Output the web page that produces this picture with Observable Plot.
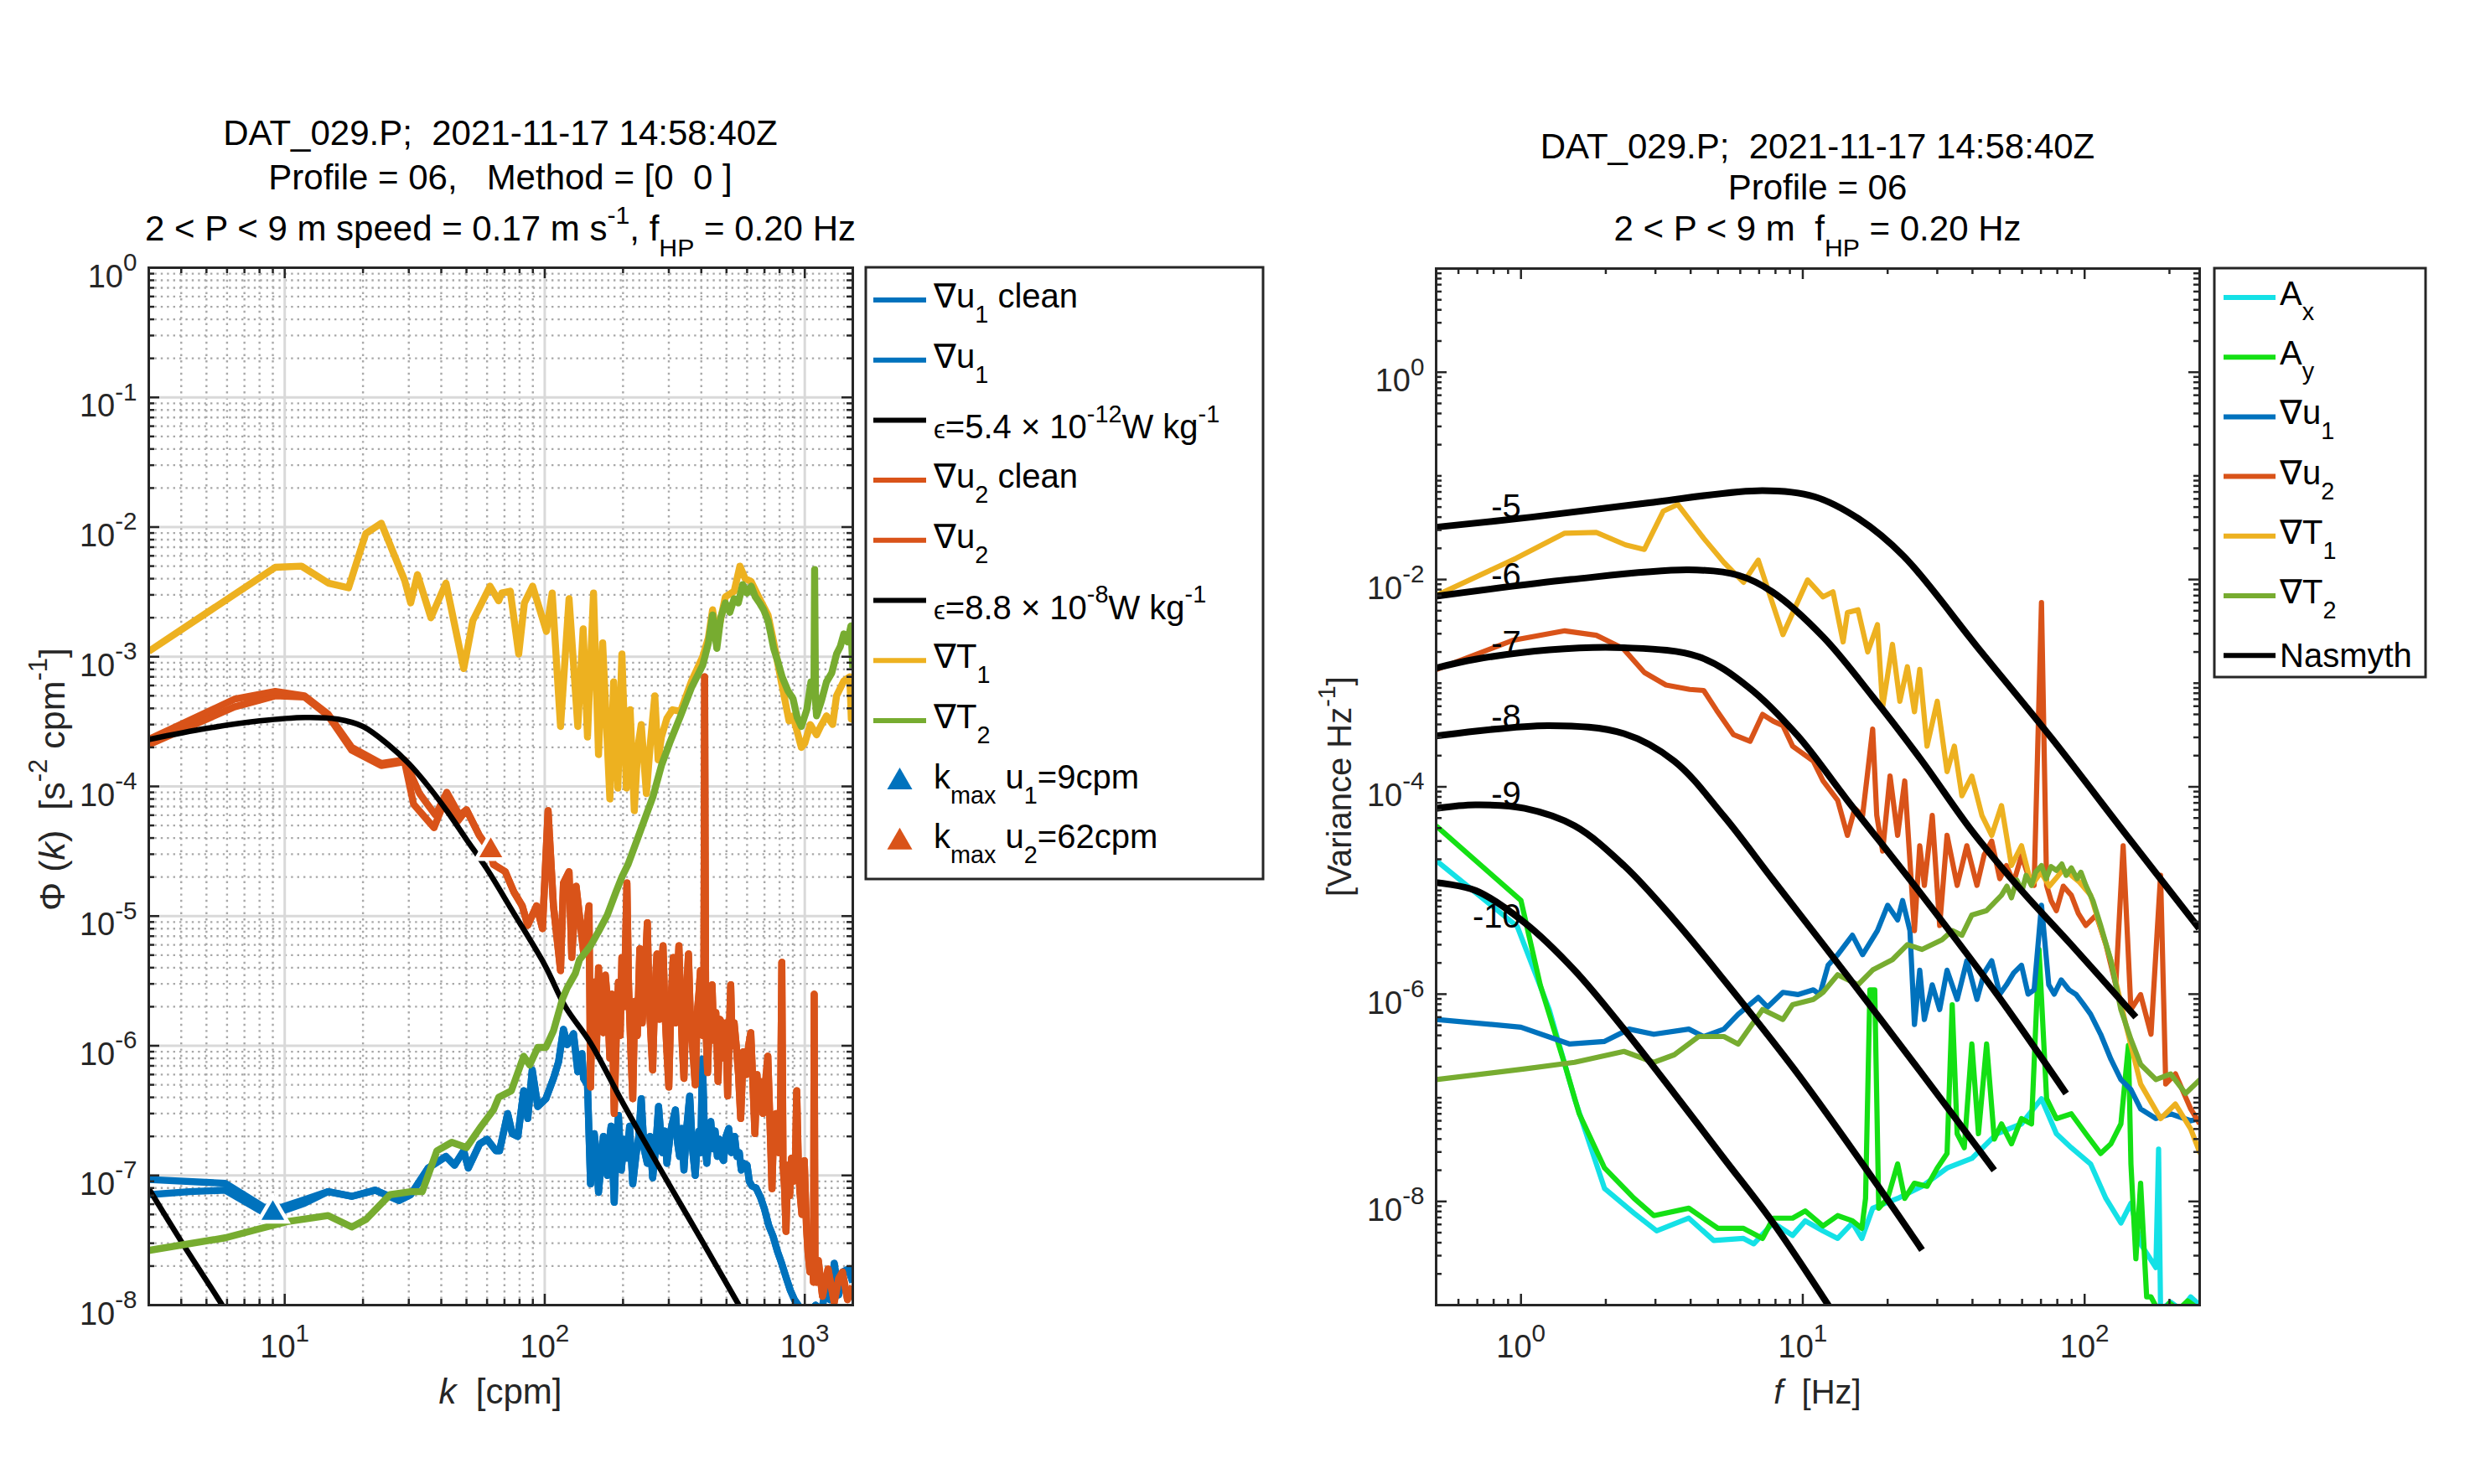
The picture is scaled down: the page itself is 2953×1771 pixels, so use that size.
<!DOCTYPE html>
<html><head><meta charset="utf-8">
<script src="https://cdn.jsdelivr.net/npm/d3@7"></script>
<script src="https://cdn.jsdelivr.net/npm/@observablehq/plot@0.6"></script>
<style>
html,body{margin:0;padding:0;background:#fff;}
#root{position:relative;width:2953px;height:1771px;background:#fff;overflow:hidden;font-family:"Liberation Sans",Arial,Helvetica,sans-serif;}
#root svg{position:absolute;overflow:visible;}
#root text{white-space:pre;}
</style></head>
<body><div id="root"></div>
<script>
// ---------------- DATA: left panel (wavenumber spectra) ----------------
const kU1clean = [[3,7.1e-8],[4.3,7.5e-8],[5.9,7.7e-8],[8.7,4.9e-8],[11.9,6.1e-8],[14.7,7.5e-8],[18.1,6.9e-8],[22.3,7.7e-8],[27.5,6.4e-8],[30.5,7.1e-8],[35.6,1.14e-7],[41.7,1.4e-7],[45,1.2e-7],[48.8,1.55e-7],[50.8,1.14e-7],[56.2,1.75e-7],[60,1.9e-7],[64.9,1.55e-7],[67,1.55e-7],[72,3.0e-7],[75,2.1e-7],[78.8,2.0e-7],[83,4.5e-7],[86,2.75e-7],[89.5,6.5e-7],[94,3.4e-7],[101,3.9e-7],[108,5.6e-7],[113,7.5e-7],[118,1.34e-6],[122,1.02e-6],[129,1.24e-6],[134,6.3e-7],[139,8.7e-7],[141,5.6e-7],[146,5.0e-7],[150,8.6e-8],[155,2.1e-7],[158,1.5e-7],[161,7.4e-8],[165,1.3e-7],[168,2.0e-7],[174,1.0e-7],[177,1.8e-7],[180,2.4e-7],[185,6.2e-8],[188,1.6e-7],[192,2.9e-7],[197,1.1e-7],[202,1.9e-7],[207,1.36e-7],[212,2.4e-7],[218,8.6e-8],[225,1.5e-7],[230,2.0e-7],[235,3.9e-7],[241,1.6e-7],[248,1.24e-7],[254,2.0e-7],[260,9.6e-8],[267,1.6e-7],[274,3.4e-7],[283,1.5e-7],[289,2.2e-7],[295,1.24e-7],[305,2.2e-7],[318,3.2e-7],[324,1.8e-7],[330,1.4e-7],[336,2.3e-7],[343,1.1e-7],[352,2.4e-7],[361,4.1e-7],[370,1.6e-7],[379,1.0e-7],[386,1.8e-7],[392,2.2e-7],[398,1.5e-7],[404,7.9e-7],[412,1.9e-7],[420,1.24e-7],[428,2.0e-7],[435,2.6e-7],[444,1.6e-7],[452,2.2e-7],[461,1.4e-7],[470,1.9e-7],[478,1.4e-7],[487,1.3e-7],[498,2.0e-7],[510,2.3e-7],[522,1.5e-7],[537,2.0e-7],[548,1.4e-7],[560,1.5e-7],[570,1.1e-7],[581,1.24e-7],[600,1.2e-7],[612,9e-8],[626,8.3e-8],[650,8.0e-8],[675,6.8e-8],[700,5.5e-8],[727,4.1e-8],[755,3.4e-8],[785,2.6e-8],[815,2.1e-8],[847,1.64e-8],[880,1.3e-8],[913,1.1e-8],[960,9.5e-9],[1000,9.0e-9],[1045,8.5e-9],[1100,1.0e-8],[1160,9e-9],[1210,1.4e-8],[1250,1.1e-8],[1298,2.1e-8],[1350,1.2e-8],[1400,1.8e-8],[1472,1.9e-8],[1530,1.5e-8]];
const kU1rawLow = [[3,9.3e-8],[5.9,8.7e-8],[8.3,5.7e-8],[9.5,5.6e-8],[11.9,6.5e-8],[14.7,7.5e-8]];

const kU2clean = [[3,2.1e-4],[6.4,4.1e-4],[9.2,5.0e-4],[11.9,4.9e-4],[14.7,3.5e-4],[18.1,1.9e-4],[23.5,1.45e-4],[28.9,1.55e-4],[31.3,7.3e-5],[37.5,4.8e-5],[41.7,8.2e-5],[46.3,5.4e-5],[50,6.6e-5],[56,4.2e-5],[61.6,3.2e-5],[63.5,2.5e-5],[70.5,2.2e-5],[76,1.54e-5],[81.9,1.2e-5],[86,8.5e-6],[93,1.2e-5],[98,8.0e-6],[103,6.5e-5],[108,1.2e-5],[115,3.8e-6],[118,1.8e-5],[124,2.2e-5],[127,4.8e-6],[132,1.7e-5],[141,5.3e-6],[148,1.2e-5],[150,4.8e-7],[152,2.0e-6],[155,3.1e-6],[158,9e-7],[161,4.0e-6],[164,1.5e-6],[168,1.26e-6],[171,3.5e-6],[174,2.3e-6],[178,8e-7],[181,2.5e-6],[185,3.0e-7],[189,1.5e-6],[192,3.1e-6],[195,1.2e-6],[198,4.8e-6],[202,2.0e-6],[207,1.8e-5],[210,3e-6],[214,1.0e-6],[218,3.9e-7],[222,2.2e-6],[227,1.2e-6],[232,5.6e-6],[237,1.5e-6],[242,3.0e-6],[248,8.9e-6],[252,2.2e-6],[256,1.2e-6],[260,6.5e-7],[265,2.5e-6],[270,5.1e-6],[275,1.6e-6],[280,3.2e-6],[285,5.9e-6],[290,1.8e-6],[295,9e-7],[300,4.8e-7],[306,2.2e-6],[312,4.8e-6],[318,1.5e-6],[323,3.0e-6],[328,5.9e-6],[334,1.9e-6],[338,1.0e-6],[343,5.6e-7],[350,2.4e-6],[357,5.1e-6],[363,1.7e-6],[370,1.0e-6],[379,5.0e-7],[386,1.8e-6],[392,2.6e-6],[397,3.8e-6],[404,1.2e-6],[409,2.0e-6],[412,7.0e-4],[416,1.5e-6],[423,6.2e-7],[430,1.8e-6],[440,2.95e-6],[447,1.1e-6],[455,1.8e-6],[464,5.3e-7],[472,1.6e-6],[483,1.45e-6],[490,8e-7],[497,1.5e-6],[505,4.1e-7],[512,1.2e-6],[519,2.95e-6],[526,1.0e-6],[535,1.5e-6],[546,9.7e-7],[556,6e-7],[567,2.75e-7],[580,9e-7],[595,6e-7],[608,1.0e-6],[620,1.26e-6],[632,5e-7],[643,2.1e-7],[655,6e-7],[665,3.5e-7],[675,5.3e-7],[690,3e-7],[705,5e-7],[721,8.3e-7],[735,2.5e-7],[748,7.9e-8],[760,2.5e-7],[776,3.0e-7],[790,1.5e-7],[805,2e-7],[816,4.4e-6],[825,1.2e-7],[836,8e-8],[847,3.7e-8],[860,1.2e-7],[875,7e-8],[889,1.36e-7],[905,9e-8],[918,1.0e-7],[931,4.5e-7],[945,1.2e-7],[958,7.4e-8],[975,5e-8],[996,1.3e-7],[1015,4e-8],[1030,2.5e-8],[1047,1.8e-8],[1065,3e-8],[1080,1.5e-8],[1087,2.5e-6],[1095,2e-8],[1110,1.5e-8],[1128,2.2e-8],[1170,1.17e-8],[1229,1.9e-8],[1298,1.05e-8],[1350,1.6e-8],[1396,1.8e-8],[1460,1.1e-8],[1530,1.4e-8]];
const kU2rawLow = [[3,2.3e-4],[6.4,4.7e-4],[9.2,5.4e-4],[11.9,5.0e-4],[14.7,3.6e-4],[18.1,2.0e-4],[23.5,1.5e-4],[28.9,1.6e-4],[33,8.8e-5],[38,6.0e-5],[42,9.0e-5],[47,6.0e-5],[50,6.6e-5]];

const kT1 = [[3,1.1e-3],[9.2,4.9e-3],[11.6,5.0e-3],[14.7,3.7e-3],[17.6,3.4e-3],[20.5,8.9e-3],[23.5,1.07e-2],[28.9,3.9e-3],[30.5,2.6e-3],[32.4,4.3e-3],[36.5,2.0e-3],[41.7,3.7e-3],[48.8,8.1e-4],[52.9,1.9e-3],[61.6,3.5e-3],[66.5,2.7e-3],[68.4,3.1e-3],[73.7,3.2e-3],[79.4,1.05e-3],[83.5,2.6e-3],[89.8,3.5e-3],[101.5,1.57e-3],[106.8,3.1e-3],[115,2.9e-4],[124,2.8e-3],[134,2.9e-4],[140.5,1.64e-3],[146,2.4e-4],[154,3.1e-3],[161,1.76e-4],[167,1.28e-3],[178,8.0e-5],[184,6.4e-4],[191,9.7e-5],[198,1.05e-3],[206,9.7e-5],[213,3.9e-4],[221,6.5e-5],[228,2.0e-4],[235,3.0e-4],[246,8.8e-5],[255,2.2e-4],[265,5.0e-4],[273,1.6e-4],[281,2.4e-4],[295,3.35e-4],[310,3.9e-4],[333,3.8e-4],[367,6.5e-4],[405,1.0e-3],[426,1.4e-3],[442,2.3e-3],[459,1.4e-3],[495,2.9e-3],[535,3.2e-3],[563,5.0e-3],[590,4.0e-3],[622,3.8e-3],[670,2.8e-3],[722,2.1e-3],[759,1.3e-3],[818,6.0e-4],[870,3.2e-4],[901,3.5e-4],[970,2.0e-4],[1000,2.15e-4],[1050,3.0e-4],[1110,2.5e-4],[1150,2.9e-4],[1212,3.5e-4],[1280,3.0e-4],[1325,5.0e-4],[1413,6.5e-4],[1490,7.0e-4],[1510,3.3e-4],[1530,3.5e-4]];

const kT2 = [[3,2.64e-8],[5.9,3.3e-8],[8.1,3.9e-8],[10.2,4.4e-8],[14.7,4.9e-8],[18.1,4.0e-8],[20.6,4.6e-8],[25.4,7.1e-8],[30.5,7.5e-8],[33.8,7.5e-8],[38.5,1.55e-7],[43.9,1.8e-7],[50,1.64e-7],[57,2.4e-7],[63.5,3.2e-7],[66.5,4.0e-7],[74.4,4.5e-7],[83,8.3e-7],[87.5,7.1e-7],[94,9.7e-7],[101,9.7e-7],[108,1.3e-6],[117,2.3e-6],[122,2.8e-6],[131,3.6e-6],[136,4.6e-6],[150,5.9e-6],[161,7.6e-6],[174,1.02e-5],[188,1.54e-5],[198,2.0e-5],[209,2.5e-5],[230,4.2e-5],[261,8.4e-5],[281,1.45e-4],[302,2.15e-4],[333,3.5e-4],[367,5.8e-4],[405,8.6e-4],[426,1.28e-3],[442,2.1e-3],[459,1.16e-3],[475,2.0e-3],[495,2.6e-3],[515,2.2e-3],[535,2.8e-3],[555,2.6e-3],[577,3.6e-3],[600,3.1e-3],[622,3.5e-3],[645,2.9e-3],[670,2.6e-3],[695,2.3e-3],[722,1.9e-3],[740,1.5e-3],[759,1.16e-3],[790,9e-4],[818,7.0e-4],[860,5.5e-4],[901,4.75e-4],[935,3.4e-4],[970,2.9e-4],[1018,3.9e-4],[1056,6.4e-4],[1085,6.0e-4],[1091,4.7e-3],[1100,4.5e-4],[1110,3.5e-4],[1160,4.6e-4],[1212,6.4e-4],[1270,7.5e-4],[1325,1.05e-3],[1370,1.2e-3],[1413,1.5e-3],[1460,1.3e-3],[1505,1.73e-3],[1530,8.2e-4]];

const kNasA = [[3,7.9e-8],[4,3.1e-8],[5.75,1e-8],[6.5,6.7e-9]];           // eps = 5.4e-12
const kNasB = [[3,2.3e-4],[5,2.8e-4],[8,3.2e-4],[12,3.4e-4],[16,3.3e-4],[20,2.9e-4],[25,2.1e-4],[30,1.5e-4],[35,1.05e-4],[42,6.5e-5],[50,3.9e-5],[60,2.3e-5],[75,1.1e-5],[100,4.2e-6],[120,2.0e-6],[150,1.05e-6],[200,3.6e-7],[300,8.6e-8],[400,3.2e-8],[558,1e-8],[620,7e-9]]; // eps = 8.8e-8
const kMax1 = [[9,5.1e-8]];
const kMax2 = [[62,3.2e-5]];

// ---------------- DATA: right panel (frequency spectra) ----------------
const fAx = [[0.5,1.95e-5],[0.97,4.5e-6],[1.26,7.1e-7],[1.55,9.8e-8],[1.98,1.33e-8],[2.52,7.7e-9],[3.03,5.2e-9],[3.94,6.9e-9],[4.83,4.2e-9],[6.16,4.4e-9],[6.7,3.9e-9],[7.85,6.2e-9],[9.2,4.7e-9],[10.2,6.5e-9],[11.8,5.2e-9],[13.3,4.4e-9],[15,6.2e-9],[16.2,4.4e-9],[17.7,8.6e-9],[21.7,1.07e-8],[26.5,1.4e-8],[32.5,2.1e-8],[39.8,2.6e-8],[48.8,4.5e-8],[59.7,5.6e-8],[70.3,9.8e-8],[79.4,4.5e-8],[89.7,3.3e-8],[105,2.3e-8],[119,1.07e-8],[134.5,6.2e-9],[146,9.6e-9],[158,3.9e-9],[179,2.3e-9],[183,3.2e-8],[186,9e-10],[202,1.07e-9],[220,9e-10],[238,1.2e-9],[256,1.0e-9]];
const fAy = [[0.5,4.2e-5],[1.0,8.0e-6],[1.17,1.23e-6],[1.43,2.1e-7],[1.61,7.0e-8],[1.98,2.1e-8],[2.52,1.07e-8],[2.96,7.3e-9],[3.94,8.6e-9],[5.0,5.5e-9],[6.16,5.5e-9],[7.2,4.4e-9],[7.85,6.9e-9],[9.2,6.9e-9],[10.2,8.1e-9],[11.8,5.8e-9],[13.3,7.3e-9],[15,6.5e-9],[16.2,5.5e-9],[16.7,1.07e-8],[17.3,1.1e-6],[18,1.1e-6],[18.6,8.6e-9],[20,1.07e-8],[21.7,2.3e-8],[23,1.07e-8],[24.9,1.5e-8],[27.6,1.4e-8],[30,2.1e-8],[32.5,2.9e-8],[33.9,7.9e-7],[35.3,4.5e-8],[37.4,3.3e-8],[39.8,3.3e-7],[42,4.5e-8],[44.9,3.3e-7],[47.8,4.0e-8],[50.7,5.6e-8],[55,3.6e-8],[59.7,6.3e-8],[64.8,5.6e-8],[68.9,2.7e-6],[73.3,9.8e-8],[79.4,6.3e-8],[89.7,7.0e-8],[101,4.5e-8],[114,2.9e-8],[124,3.6e-8],[134.5,5.6e-8],[143,3.2e-7],[146,2.3e-8],[152,2.8e-9],[158,1.5e-8],[166,1.2e-9],[172,1.2e-9],[186,8e-10],[200,1.05e-9],[215,9e-10],[232,1.1e-9],[256,9e-10]];
const fU1 = [[0.5,5.7e-7],[1.0,4.8e-7],[1.49,3.3e-7],[1.98,3.5e-7],[2.42,4.6e-7],[2.96,4.1e-7],[3.94,4.6e-7],[4.45,3.9e-7],[5.25,4.6e-7],[5.9,6.4e-7],[6.95,9.3e-7],[7.5,7.5e-7],[8.5,1.04e-6],[9.6,9.9e-7],[10.9,1.1e-6],[11.5,9.9e-7],[12.3,1.9e-6],[13.3,2.4e-6],[15,3.7e-6],[16.3,2.4e-6],[18.4,4.1e-6],[20,7.2e-6],[21.7,5.2e-6],[22.6,8.0e-6],[24,4.1e-6],[24.9,5.1e-7],[26,1.7e-6],[27,5.7e-7],[28.8,1.23e-6],[30.6,7.1e-7],[32.5,1.7e-6],[35.3,8.9e-7],[38.2,2.1e-6],[41.5,8.9e-7],[44,1.6e-6],[46.8,2.1e-6],[50,1.0e-6],[52.8,1.23e-6],[56,1.6e-6],[59.7,1.9e-6],[63,1.0e-6],[66.2,1.1e-6],[70.3,7.2e-6],[74.6,1.23e-6],[78,1.0e-6],[82.6,1.37e-6],[88,1.1e-6],[93.3,9.9e-7],[99,8.0e-7],[105,6.4e-7],[114,4.1e-7],[124,2.35e-7],[134.5,1.5e-7],[146,1.2e-7],[158,7.8e-8],[179,6.3e-8],[202,7.0e-8],[238,6.0e-8],[256,6.3e-8]];
const fU2 = [[0.5,1.35e-3],[0.94,2.6e-3],[1.43,3.2e-3],[1.85,2.9e-3],[2.3,2.17e-3],[2.74,1.27e-3],[3.27,9.6e-4],[3.97,8.7e-4],[4.45,8.5e-4],[4.94,5.5e-4],[5.67,3.2e-4],[6.5,2.75e-4],[7.2,5.0e-4],[7.85,4.3e-4],[8.5,3.9e-4],[9.2,2.47e-4],[10.9,1.77e-4],[11.8,1.14e-4],[13.3,7.4e-5],[14.4,3.4e-5],[15.3,6.2e-5],[16.3,5.3e-5],[17,1.4e-4],[17.7,3.6e-4],[18.3,5.3e-5],[19.2,2.4e-5],[20.4,1.27e-4],[21.7,3.4e-5],[23,1.14e-4],[24.9,4.1e-6],[26,2.7e-5],[27,1.12e-5],[28.8,5.3e-5],[30.6,4.6e-6],[32.5,3.4e-5],[35.3,1.12e-5],[38.2,2.7e-5],[41.5,1.12e-5],[44,2.2e-5],[46.8,3.0e-5],[50,1.3e-5],[52.8,1.74e-5],[56,1.2e-5],[59.7,2.17e-5],[63,1.4e-5],[66.2,1.12e-5],[70.3,6.0e-3],[73.3,1.12e-5],[76,8e-6],[79.4,6.4e-6],[84,1.1e-5],[89.7,9.0e-6],[95,6e-6],[101,4.6e-6],[110,5.8e-6],[119,3.0e-6],[129,1.23e-6],[137,2.7e-5],[146,7.1e-7],[158,9.9e-7],[172,4.1e-7],[186,1.4e-5],[194,1.36e-7],[210,1.7e-7],[238,7.8e-8],[256,5.6e-8]];
const fT1 = [[0.5,7.0e-3],[0.96,1.6e-2],[1.43,2.8e-2],[1.85,2.85e-2],[2.35,2.16e-2],[2.74,1.95e-2],[3.2,4.57e-2],[3.6,5.3e-2],[4.45,2.5e-2],[5.25,1.46e-2],[6.16,9.4e-3],[6.95,1.54e-2],[8.5,2.94e-3],[10.4,9.9e-3],[11.8,6.8e-3],[12.8,7.6e-3],[13.9,2.5e-3],[14.4,4.8e-3],[15.7,5.1e-3],[17,2.0e-3],[18.4,3.67e-3],[19.2,5.9e-4],[20.8,2.37e-3],[22.1,6.7e-4],[23.5,1.44e-3],[24.9,5.3e-4],[26,1.36e-3],[27.6,2.47e-4],[30,6.7e-4],[32.5,1.4e-4],[34.5,2.47e-4],[36.7,8.2e-5],[39.8,1.27e-4],[43.2,5.3e-5],[46.8,3.4e-5],[50.7,6.6e-5],[55,1.74e-5],[59.7,2.7e-5],[64.8,1.12e-5],[70,1.5e-5],[75,1.1e-5],[79,1.3e-5],[84,1.6e-5],[89.7,1.4e-5],[96,1.2e-5],[105,9.0e-6],[124,2.1e-6],[140,5.1e-7],[158,1.36e-7],[186,6.3e-8],[210,8.7e-8],[238,5.0e-8],[257,2.9e-8]];
const fT2 = [[0.5,1.5e-7],[1.03,1.9e-7],[1.55,2.2e-7],[2.32,2.8e-7],[2.96,2.2e-7],[3.5,2.6e-7],[4.27,3.9e-7],[5.25,3.9e-7],[5.9,3.3e-7],[7.2,7.1e-7],[8.5,5.7e-7],[9.2,7.9e-7],[10.9,8.9e-7],[11.8,1.04e-6],[13.3,1.54e-6],[15.7,1.23e-6],[17.7,1.71e-6],[20.8,2.15e-6],[23.5,3.0e-6],[26.5,2.7e-6],[31.2,3.35e-6],[33.9,4.1e-6],[36.7,3.7e-6],[39.8,5.8e-6],[44.9,6.4e-6],[50.7,9.0e-6],[53,1.1e-5],[55,8.5e-6],[57.4,1.26e-5],[60,1.0e-5],[62,1.4e-5],[64.8,1.12e-5],[67,1.5e-5],[70.3,1.74e-5],[73,1.3e-5],[76,1.7e-5],[79.4,1.56e-5],[83,1.8e-5],[86,1.4e-5],[89.7,1.65e-5],[94,1.3e-5],[97,1.5e-5],[101,1.12e-5],[107,8e-6],[114,4.6e-6],[124,2.1e-6],[134.5,7.1e-7],[146,3.66e-7],[158,2.1e-7],[179,1.5e-7],[202,1.7e-7],[228,1.1e-7],[257,1.5e-7]];
const fNas5 = [[0.5,3.2e-2],[1.09,4.0e-2],[2.7,5.4e-2],[7.2,7.2e-2],[11,6.3e-2],[15.8,3.85e-2],[22.8,1.68e-2],[41.8,2.2e-3],[76.7,2.9e-4],[141,3.4e-5],[255,4.3e-6]];
const fNas6 = [[0.5,6.9e-3],[1.5,1.0e-2],[3.94,1.24e-2],[5.9,1.1e-2],[7.8,7.6e-3],[11.8,2.8e-3],[17.7,7.4e-4],[26.5,1.77e-4],[39.7,3.8e-5],[59.7,1.0e-5],[89.6,3.0e-6],[152,6.0e-7]];
const fNas7 = [[0.5,1.4e-3],[0.69,1.7e-3],[1.26,2.1e-3],[2.32,2.2e-3],[4.27,1.8e-3],[6.4,9.2e-4],[9.6,3.1e-4],[14.4,7.4e-5],[26.5,9.0e-6],[48.8,1.0e-6],[86,1.1e-7]];
const fNas8 = [[0.5,3.1e-4],[1.26,3.9e-4],[2.32,3.26e-4],[3.5,1.77e-4],[5.25,5.2e-5],[7.85,1.26e-5],[14.4,1.5e-6],[26.5,1.7e-7],[47.8,2.0e-8]];
const fNas9 = [[0.5,6.2e-5],[0.69,6.7e-5],[1.03,6.2e-5],[1.55,4.2e-5],[2.32,1.74e-5],[3.5,5.2e-6],[5.25,1.37e-6],[9.6,1.7e-7],[17.7,1.67e-8],[26.5,3.4e-9]];
const fNas10 = [[0.5,1.19e-5],[0.69,1.0e-5],[1.03,4.9e-6],[1.55,1.7e-6],[2.32,4.6e-7],[3.5,1.1e-7],[5.25,2.6e-8],[7.85,6.2e-9],[12.8,8.5e-10]];
const nasLabels = [["-5",3.9e-2],["-6",8.5e-3],["-7",1.9e-3],["-8",3.65e-4],["-9",6.6e-5],["-10",4.4e-6]];
const nasLabelF = 1.0;

// ---------------- ticks ----------------
const leftXMajor = [10, 100, 1000];
const leftYMajor = [1e-8,1e-7,1e-6,1e-5,1e-4,1e-3,1e-2,1e-1,1];
const rightXMajor = [1, 10, 100];
const rightYMajor = [1e-8,1e-6,1e-4,1e-2,1];
const rightYOdd = [1e-7,1e-5,1e-3,1e-1];
const leftXDomain = [3, 1530], leftYDomain = [1e-8, 1];
const rightXDomain = [0.5, 256], rightYDomain = [1e-9, 10];

// ---------------- colours & legends ----------------
const C = {u1:"#0072BD", u2:"#D95319", T1:"#EDB120", T2:"#77AC30", ax:"#14E1E6", ay:"#14E014", nas:"#000000"};
const leftLegend = [
  {kind:"line", color:C.u1, parts:["∇u",["1","sub"]," clean"]},
  {kind:"line", color:C.u1, parts:["∇u",["1","sub"]]},
  {kind:"line", color:C.nas, parts:[["ϵ","eps"],"=5.4 × 10",["-12","sup"],"W kg",["-1","sup"]]},
  {kind:"line", color:C.u2, parts:["∇u",["2","sub"]," clean"]},
  {kind:"line", color:C.u2, parts:["∇u",["2","sub"]]},
  {kind:"line", color:C.nas, parts:[["ϵ","eps"],"=8.8 × 10",["-8","sup"],"W kg",["-1","sup"]]},
  {kind:"line", color:C.T1, parts:["∇T",["1","sub"]]},
  {kind:"line", color:C.T2, parts:["∇T",["2","sub"]]},
  {kind:"tri", color:C.u1, parts:["k",["max","sub"]," u",["1","sub"],"=9cpm"]},
  {kind:"tri", color:C.u2, parts:["k",["max","sub"]," u",["2","sub"],"=62cpm"]}
];
const rightLegend = [
  {kind:"line", color:C.ax, parts:["A",["x","sub"]]},
  {kind:"line", color:C.ay, parts:["A",["y","sub"]]},
  {kind:"line", color:C.u1, parts:["∇u",["1","sub"]]},
  {kind:"line", color:C.u2, parts:["∇u",["2","sub"]]},
  {kind:"line", color:C.T1, parts:["∇T",["1","sub"]]},
  {kind:"line", color:C.T2, parts:["∇T",["2","sub"]]},
  {kind:"line", color:C.nas, parts:["Nasmyth"]}
];

// ---------------- helpers ----------------
const FONT = '"Liberation Sans", Arial, Helvetica, sans-serif';
const NS = "http://www.w3.org/2000/svg";
const root = document.getElementById("root");
function el(name, attrs, parent){ const e=document.createElementNS(NS,name); for(const k in attrs) e.setAttribute(k,attrs[k]); if(parent) parent.appendChild(e); return e; }
function minorTicks(lo, hi, dom){ return d3.range(lo, hi).flatMap(e => d3.range(2,10).map(m => +(m*Math.pow(10,e)).toPrecision(3))).filter(v => v > dom[0] && v < dom[1]); }
const sup10 = d => "10^" + Math.round(Math.log10(d));
const TICKFS = 38;
function supTicks(svg, size){
  svg.querySelectorAll('g[aria-label$="tick label"] text').forEach(t => {
    const m = t.textContent.match(/^10\^(-?\d+)$/); if(!m) return;
    t.textContent = "";
    const a = el("tspan", {}, t); a.textContent = "10";
    const b = el("tspan", {"font-size": size*0.78, dy: -size*0.52}, t); b.textContent = m[1];
  });
}
function richText(parent, x, y, parts, o = {}){
  const size = o.size || 40, sc = o.scale || 0.72;
  const t = el("text", {x, y, "font-size": size, "text-anchor": o.anchor || "start", fill: o.fill || "#000", "font-family": FONT}, parent);
  if (o.rotate) t.setAttribute("transform", `rotate(${o.rotate},${x},${y})`);
  let shift = 0;
  for (const p of parts){
    const [s, mode] = typeof p === "string" ? [p, ""] : p;
    const ts = el("tspan", {}, t);
    let target = 0, fs = size;
    if (mode === "sub"){ target = size*0.45; fs = size*sc; }
    else if (mode === "sup"){ target = -size*0.48; fs = size*sc; }
    else if (mode === "it"){ ts.setAttribute("font-style","italic"); }
    else if (mode === "eps"){ fs = size*0.78; }
    ts.setAttribute("font-size", fs);
    if (target - shift !== 0) ts.setAttribute("dy", target - shift);
    shift = target;
    ts.textContent = s;
  }
  return t;
}
function tickMarks(xMaj, xMin, yMaj, yMin, iw, ih){
  const s = {stroke:"#262626", strokeWidth:2.5};
  const MJ = 13, MN = 7;
  return [
    Plot.ruleX(xMaj, {...s, insetTop: ih-MJ}), Plot.ruleX(xMaj, {...s, insetBottom: ih-MJ}),
    Plot.ruleX(xMin, {...s, insetTop: ih-MN}), Plot.ruleX(xMin, {...s, insetBottom: ih-MN}),
    Plot.ruleY(yMaj, {...s, insetRight: iw-MJ}), Plot.ruleY(yMaj, {...s, insetLeft: iw-MJ}),
    Plot.ruleY(yMin, {...s, insetRight: iw-MN}), Plot.ruleY(yMin, {...s, insetLeft: iw-MN})
  ];
}
const XY = {x: d => d[0], y: d => d[1]};
function ln(data, color, w, extra = {}){ return Plot.line(data, {...XY, stroke: color, strokeWidth: w, strokeLinejoin: "round", strokeLinecap: "butt", clip: true, ...extra}); }
function place(svg, left, top){ svg.style.position="absolute"; svg.style.left=left+"px"; svg.style.top=top+"px"; svg.style.maxWidth="none"; root.appendChild(svg); }
const axisOpts = {tickSize: 0, tickFormat: sup10, label: null, fontSize: TICKFS};

// ---------------- left panel ----------------
const LW = 1030, LMT = 319, LMB = 214, LML = 177, LMR = 13;
const LIW = LW - LML - LMR, LIH = 1771 - LMT - LMB;
const leftXMinor = minorTicks(0, 3, leftXDomain);
const leftYMinor = minorTicks(-8, 0, leftYDomain);
const u1raw = kU1rawLow.concat(kU1clean.filter(d => d[0] > 14.7));
const u2raw = kU2rawLow.concat(kU2clean.filter(d => d[0] > 50));
const LWD = 8.4, LBK = 6.6;
const leftPlot = Plot.plot({
  width: LW, height: 1771, marginLeft: LML, marginRight: LMR, marginTop: LMT, marginBottom: LMB,
  x: {type: "log", domain: leftXDomain},
  y: {type: "log", domain: leftYDomain},
  style: {fontFamily: FONT, fontSize: TICKFS + "px", color: "#262626", background: "transparent", overflow: "visible"},
  marks: [
    Plot.ruleX(leftXMinor, {stroke: "#a8a8a8", strokeWidth: 2.4, strokeDasharray: "2.4,5"}),
    Plot.ruleY(leftYMinor, {stroke: "#a8a8a8", strokeWidth: 2.4, strokeDasharray: "2.4,5"}),
    Plot.ruleX(leftXMajor, {stroke: "#d9d9d9", strokeWidth: 3}),
    Plot.ruleY(leftYMajor, {stroke: "#d9d9d9", strokeWidth: 3}),
    ln(kU1clean, C.u1, LWD), ln(u1raw, C.u1, LWD),
    ln(kNasA, C.nas, LBK, {curve: "catmull-rom"}),
    ln(kU2clean, C.u2, LWD), ln(u2raw, C.u2, LWD),
    ln(kNasB, C.nas, LBK, {curve: "catmull-rom"}),
    ln(kT1, C.T1, LWD), ln(kT2, C.T2, LWD),
    Plot.dot(kMax1, {...XY, symbol: "triangle", r: 13, fill: C.u1, stroke: "white", strokeWidth: 4.5}),
    Plot.dot(kMax2, {...XY, symbol: "triangle", r: 13, fill: C.u2, stroke: "white", strokeWidth: 4.5}),
    ...tickMarks(leftXMajor, leftXMinor, leftYMajor, leftYMinor, LIW, LIH),
    Plot.frame({stroke: "#262626", strokeWidth: 3}),
    Plot.axisX(leftXMajor, {...axisOpts, anchor: "bottom", tickPadding: 36}),
    Plot.axisY(leftYMajor, {...axisOpts, anchor: "left", tickPadding: 14, dy: 11})
  ]
});
supTicks(leftPlot, TICKFS);
place(leftPlot, 0, 0);

// ---------------- right panel ----------------
const RL = 1540, RW = 1110, RMT = 320, RMB = 214, RML = 173, RMR = 26;
const RIW = RW - RML - RMR, RIH = 1771 - RMT - RMB;
const rightXMinor = minorTicks(-1, 3, rightXDomain);
const rightYMinor = minorTicks(-9, 1, rightYDomain).concat(rightYOdd);
const RWD = 6.2, NWD = 8;
const rightPlot = Plot.plot({
  width: RW, height: 1771, marginLeft: RML, marginRight: RMR, marginTop: RMT, marginBottom: RMB,
  x: {type: "log", domain: rightXDomain},
  y: {type: "log", domain: rightYDomain},
  style: {fontFamily: FONT, fontSize: TICKFS + "px", color: "#262626", background: "transparent", overflow: "visible"},
  marks: [
    ln(fAx, C.ax, RWD), ln(fAy, C.ay, RWD), ln(fU1, C.u1, RWD), ln(fU2, C.u2, RWD), ln(fT1, C.T1, RWD), ln(fT2, C.T2, RWD),
    ...[fNas5, fNas6, fNas7, fNas8, fNas9, fNas10].map(d => ln(d, C.nas, NWD, {curve: "catmull-rom"})),
    Plot.text(nasLabels, {x: () => nasLabelF, y: d => d[1], text: d => d[0], textAnchor: "end", lineAnchor: "bottom", fontSize: 40, fill: "#000"}),
    ...tickMarks(rightXMajor, rightXMinor, rightYMajor, rightYMinor, RIW, RIH),
    Plot.frame({stroke: "#262626", strokeWidth: 3}),
    Plot.axisX(rightXMajor, {...axisOpts, anchor: "bottom", tickPadding: 36}),
    Plot.axisY(rightYMajor, {...axisOpts, anchor: "left", tickPadding: 14, dy: 11})
  ]
});
supTicks(rightPlot, TICKFS);
place(rightPlot, RL, 0);

// ---------------- overlay: titles, axis labels, legends ----------------
const ov = el("svg", {width: 2953, height: 1771, viewBox: "0 0 2953 1771"});
ov.style.left = "0px"; ov.style.top = "0px";
root.appendChild(ov);
const lcx = (LML + LW - LMR) / 2, rcx = RL + (RML + RW - RMR) / 2;
const TS = 42;
richText(ov, lcx, 173, ["DAT_029.P;  2021-11-17 14:58:40Z"], {size: TS, anchor: "middle"});
richText(ov, lcx, 226, ["Profile = 06,   Method = [0  0 ]"], {size: TS, anchor: "middle"});
richText(ov, lcx, 287, ["2 < P < 9 m speed = 0.17 m s", ["-1","sup"], ", f", ["HP","sub"], " = 0.20 Hz"], {size: TS, anchor: "middle"});
richText(ov, rcx, 189, ["DAT_029.P;  2021-11-17 14:58:40Z"], {size: TS, anchor: "middle"});
richText(ov, rcx, 238, ["Profile = 06"], {size: TS, anchor: "middle"});
richText(ov, rcx, 287, ["2 < P < 9 m  f", ["HP","sub"], " = 0.20 Hz"], {size: TS, anchor: "middle"});
// axis labels
richText(ov, lcx, 1675, [["k","it"], "  [cpm]"], {size: 42, anchor: "middle", fill: "#262626"});
richText(ov, rcx, 1675, [["f","it"], "  [Hz]"], {size: 40, anchor: "middle", fill: "#262626"});
richText(ov, 77, 930, ["Φ (", ["k","it"], ")  [s", ["-2","sup"], " cpm", ["-1","sup"], "]"], {size: 43, anchor: "middle", fill: "#262626", rotate: -90});
richText(ov, 1612, RMT + RIH/2, ["[Variance Hz", ["-1","sup"], "]"], {size: 40, anchor: "middle", fill: "#262626", rotate: -90});

function legend(items, box, rowY0, rowStep, sw0, sw1, tx, size){
  el("rect", {x: box[0], y: box[1], width: box[2], height: box[3], fill: "#fff", stroke: "#262626", "stroke-width": 3}, ov);
  items.forEach((it, i) => {
    const y = rowY0 + i*rowStep;
    if (it.kind === "line") el("line", {x1: sw0, x2: sw1, y1: y, y2: y, stroke: it.color, "stroke-width": 6}, ov);
    else { const cx = (sw0 + sw1)/2, h = 26, w = 30; el("path", {d: `M${cx},${y-h*0.6}L${cx+w/2},${y+h*0.4}L${cx-w/2},${y+h*0.4}Z`, fill: it.color}, ov); }
    const hasSup = it.parts.some(p => Array.isArray(p) && p[1] === "sup");
    const off = hasSup ? 22 : (it.parts.length === 1 ? 14 : 9);
    richText(ov, tx, y + off, it.parts, {size});
  });
}
legend(leftLegend, [1033, 319, 474, 730], 358, 71.7, 1042, 1105, 1114, 40);
legend(rightLegend, [2642, 320, 252, 488], 355, 71.2, 2653, 2715, 2720, 40);
</script></body></html>
